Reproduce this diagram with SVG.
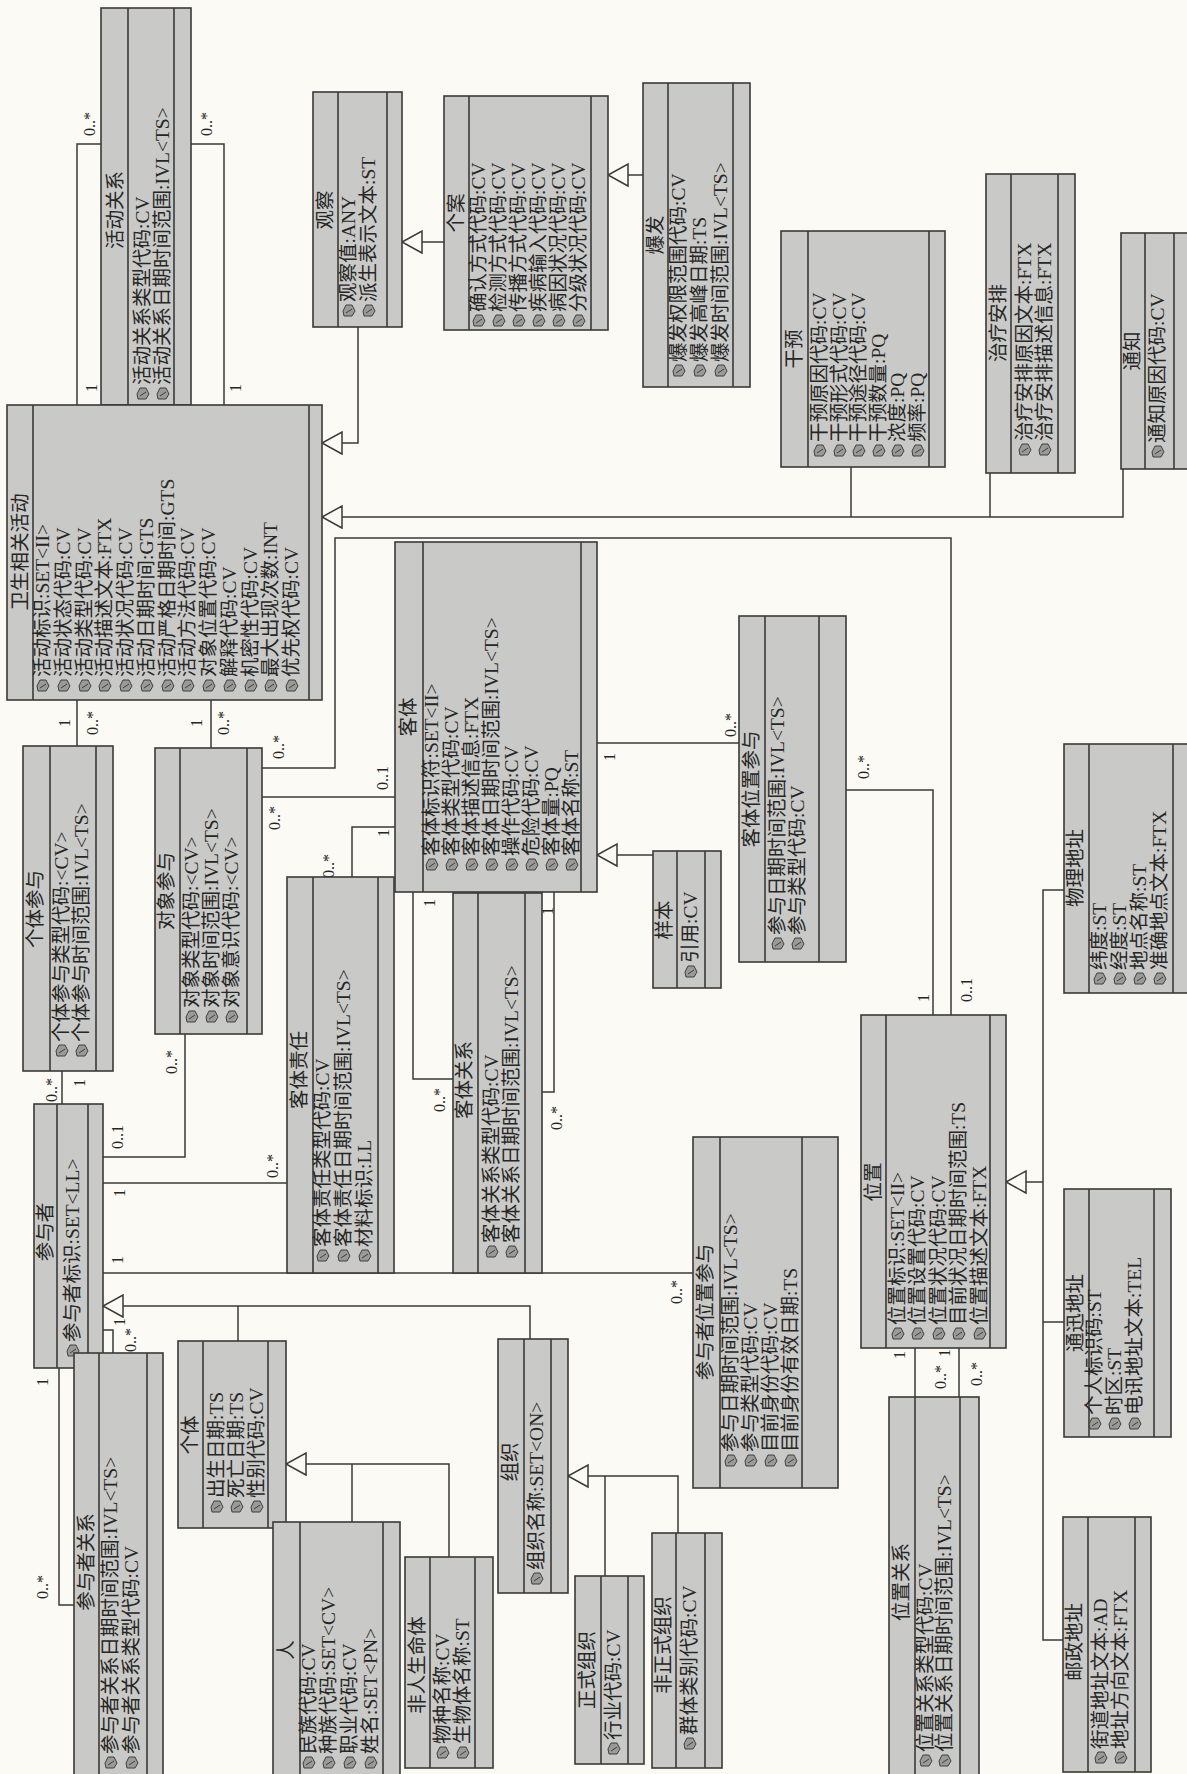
<svg xmlns="http://www.w3.org/2000/svg" xmlns:xlink="http://www.w3.org/1999/xlink" width="1187" height="1774" viewBox="0 0 1187 1774">
<style>
.bg{fill:#fbfaf4}
.box{fill:#c9c9c7;stroke:#3a3a38;stroke-width:1.6}
.dv{stroke:#3a3a38;stroke-width:1.6}
.cn{fill:none;stroke:#3a3a38;stroke-width:1.5}
.g{fill:none;stroke:#3a3a38;stroke-width:1.5;marker-end:url(#gen)}
text{font-family:"Liberation Serif","Noto Sans CJK SC",serif;fill:#262625}
.tt{font-size:19.5px;text-anchor:middle}
.ta{font-size:19.5px}
.m{font-size:16px;text-anchor:middle}
</style>
<defs>
<marker id="gen" markerWidth="22" markerHeight="24" refX="20" refY="11" orient="auto" markerUnits="userSpaceOnUse" overflow="visible">
<path d="M0,0 L20,11 L0,22 Z" fill="#fbfaf4" stroke="#3a3a38" stroke-width="1.5"/>
</marker>
<g id="ic"><path d="M-5,-1 L3,-1 L6,-6 L3,-12 L-3,-12 L-6,-6 Z" fill="#9a9a98" stroke="#333" stroke-width="0.9"/><path d="M-3,-4 L3,-8" stroke="#333" stroke-width="0.9"/></g>
</defs>
<rect class="bg" x="0" y="0" width="1187" height="1774"/>

<g id="connectors">
<polyline class="g" points="358,327 358,443 322,443"/>
<polyline class="g" points="444,242 402,242"/>
<polyline class="g" points="643,175 608,175"/>
<polyline class="g" points="1123,469 1123,517 322,517"/>
<polyline class="cn" points="851,467 851,517"/>
<polyline class="cn" points="990,473 990,517"/>
<polyline class="g" points="653,855 597,855"/>
<polyline class="g" points="530,1339 530,1306 103,1306"/>
<polyline class="cn" points="238,1341 238,1306"/>
<polyline class="g" points="449,1557 449,1464 286,1464"/>
<polyline class="cn" points="352,1522 352,1464"/>
<polyline class="g" points="678,1533 678,1476 568,1476"/>
<polyline class="cn" points="605,1576 605,1476"/>
<polyline class="g" points="1043,1182 1006,1182"/>
<polyline class="cn" points="1064,890 1043,890 1043,1640 1063,1640"/>
<polyline class="cn" points="1043,1322 1064,1322"/>

<polyline class="cn" points="101,144 77,144 77,405"/>
<polyline class="cn" points="191,144 224,144 224,405"/>
<polyline class="cn" points="77,700 77,746"/>
<polyline class="cn" points="211,700 211,748"/>
<polyline class="cn" points="262,768 335,768 335,538 951,538 951,1015"/>
<polyline class="cn" points="262,797 395,797"/>
<polyline class="cn" points="395,827 352,827 352,877"/>
<polyline class="cn" points="597,743 739,743"/>
<polyline class="cn" points="846,790 933,790 933,1015"/>
<polyline class="cn" points="413,892 413,1079 453,1079"/>
<polyline class="cn" points="542,1092 554,1092 554,892"/>
<polyline class="cn" points="62,1104 62,1071"/>
<polyline class="cn" points="103,1157 185,1157 185,1034"/>
<polyline class="cn" points="103,1183 287,1183"/>
<polyline class="cn" points="103,1273 693,1273"/>
<polyline class="cn" points="59,1368 59,1605 74,1605"/>
<polyline class="cn" points="103,1330 113,1330 113,1353"/>
<polyline class="cn" points="915,1348 915,1397"/>
<polyline class="cn" points="959,1348 959,1397"/>

<text class="m" transform="translate(95,124) rotate(-90)">0..*</text>
<text class="m" transform="translate(97,388) rotate(-90)">1</text>
<text class="m" transform="translate(212,124) rotate(-90)">0..*</text>
<text class="m" transform="translate(241,388) rotate(-90)">1</text>
<text class="m" transform="translate(70,723) rotate(-90)">1</text>
<text class="m" transform="translate(98,723) rotate(-90)">0..*</text>
<text class="m" transform="translate(202,723) rotate(-90)">1</text>
<text class="m" transform="translate(229,723) rotate(-90)">0..*</text>
<text class="m" transform="translate(284,747) rotate(-90)">0..*</text>
<text class="m" transform="translate(972,990) rotate(-90)">0..1</text>
<text class="m" transform="translate(280,818) rotate(-90)">0..*</text>
<text class="m" transform="translate(388,778) rotate(-90)">0..1</text>
<text class="m" transform="translate(389,833) rotate(-90)">1</text>
<text class="m" transform="translate(334,866) rotate(-90)">0..*</text>
<text class="m" transform="translate(615,757) rotate(-90)">1</text>
<text class="m" transform="translate(736,725) rotate(-90)">0..*</text>
<text class="m" transform="translate(869,767) rotate(-90)">0..*</text>
<text class="m" transform="translate(929,998) rotate(-90)">1</text>
<text class="m" transform="translate(435,903) rotate(-90)">1</text>
<text class="m" transform="translate(445,1100) rotate(-90)">0..*</text>
<text class="m" transform="translate(553,911) rotate(-90)">1</text>
<text class="m" transform="translate(562,1118) rotate(-90)">0..*</text>
<text class="m" transform="translate(57,1090) rotate(-90)">0..*</text>
<text class="m" transform="translate(85,1083) rotate(-90)">1</text>
<text class="m" transform="translate(123,1137) rotate(-90)">0..1</text>
<text class="m" transform="translate(177,1062) rotate(-90)">0..*</text>
<text class="m" transform="translate(125,1193) rotate(-90)">1</text>
<text class="m" transform="translate(278,1166) rotate(-90)">0..*</text>
<text class="m" transform="translate(123,1260) rotate(-90)">1</text>
<text class="m" transform="translate(682,1292) rotate(-90)">0..*</text>
<text class="m" transform="translate(48,1382) rotate(-90)">1</text>
<text class="m" transform="translate(48,1587) rotate(-90)">0..*</text>
<text class="m" transform="translate(125,1322) rotate(-90)">1</text>
<text class="m" transform="translate(136,1340) rotate(-90)">0..*</text>
<text class="m" transform="translate(905,1355) rotate(-90)">1</text>
<text class="m" transform="translate(946,1377) rotate(-90)">0..*</text>
<text class="m" transform="translate(950,1353) rotate(-90)">1</text>
<text class="m" transform="translate(982,1374) rotate(-90)">0..*</text>
</g>

<g id="n-huodongguanxi">
<rect class="box" x="101" y="8" width="90" height="397"/>
<line class="dv" x1="128" y1="8" x2="128" y2="405"/><line class="dv" x1="174" y1="8" x2="174" y2="405"/>
<text class="tt" transform="translate(122,210) rotate(-90)">活动关系</text>
<use href="#ic" x="143" y="400"/><text class="ta" transform="translate(149,385) rotate(-90)">活动关系类型代码:CV</text>
<use href="#ic" x="163" y="400"/><text class="ta" transform="translate(169,385) rotate(-90)">活动关系日期时间范围:IVL&lt;TS&gt;</text>
</g>

<g id="n-guancha">
<rect class="box" x="313" y="92" width="89" height="235"/>
<line class="dv" x1="338" y1="92" x2="338" y2="327"/><line class="dv" x1="387" y1="92" x2="387" y2="327"/>
<text class="tt" transform="translate(332,210) rotate(-90)">观察</text>
<use href="#ic" x="349" y="317"/><text class="ta" transform="translate(355,302) rotate(-90)">观察值:ANY</text>
<use href="#ic" x="369" y="317"/><text class="ta" transform="translate(375,302) rotate(-90)">派生表示文本:ST</text>
</g>

<g id="n-gean">
<rect class="box" x="444" y="96" width="164" height="234"/>
<line class="dv" x1="469" y1="96" x2="469" y2="330"/><line class="dv" x1="591" y1="96" x2="591" y2="330"/>
<text class="tt" transform="translate(463,213) rotate(-90)">个案</text>
<use href="#ic" x="479" y="327"/><text class="ta" transform="translate(485,312) rotate(-90)">确认方式代码:CV</text>
<use href="#ic" x="499" y="327"/><text class="ta" transform="translate(505,312) rotate(-90)">检测方式代码:CV</text>
<use href="#ic" x="519" y="327"/><text class="ta" transform="translate(525,312) rotate(-90)">传播方式代码:CV</text>
<use href="#ic" x="539" y="327"/><text class="ta" transform="translate(545,312) rotate(-90)">疾病输入代码:CV</text>
<use href="#ic" x="559" y="327"/><text class="ta" transform="translate(565,312) rotate(-90)">病因状况代码:CV</text>
<use href="#ic" x="579" y="327"/><text class="ta" transform="translate(585,312) rotate(-90)">分级状况代码:CV</text>
</g>

<g id="n-baofa">
<rect class="box" x="643" y="83" width="107" height="304"/>
<line class="dv" x1="668" y1="83" x2="668" y2="387"/><line class="dv" x1="733" y1="83" x2="733" y2="387"/>
<text class="tt" transform="translate(662,235) rotate(-90)">爆发</text>
<use href="#ic" x="679" y="377"/><text class="ta" transform="translate(685,362) rotate(-90)">爆发权限范围代码:CV</text>
<use href="#ic" x="700" y="377"/><text class="ta" transform="translate(706,362) rotate(-90)">爆发高峰日期:TS</text>
<use href="#ic" x="721" y="377"/><text class="ta" transform="translate(727,362) rotate(-90)">爆发时间范围:IVL&lt;TS&gt;</text>
</g>

<g id="n-ganyu">
<rect class="box" x="781" y="231" width="164" height="236"/>
<line class="dv" x1="808" y1="231" x2="808" y2="467"/><line class="dv" x1="929" y1="231" x2="929" y2="467"/>
<text class="tt" transform="translate(801,349) rotate(-90)">干预</text>
<use href="#ic" x="820" y="457"/><text class="ta" transform="translate(826,442) rotate(-90)">干预原因代码:CV</text>
<use href="#ic" x="840" y="457"/><text class="ta" transform="translate(846,442) rotate(-90)">干预形式代码:CV</text>
<use href="#ic" x="859" y="457"/><text class="ta" transform="translate(865,442) rotate(-90)">干预途径代码:CV</text>
<use href="#ic" x="879" y="457"/><text class="ta" transform="translate(885,442) rotate(-90)">干预数量:PQ</text>
<use href="#ic" x="898" y="457"/><text class="ta" transform="translate(904,442) rotate(-90)">浓度:PQ</text>
<use href="#ic" x="918" y="457"/><text class="ta" transform="translate(924,442) rotate(-90)">频率:PQ</text>
</g>

<g id="n-zhiliaoanpai">
<rect class="box" x="986" y="174" width="89" height="299"/>
<line class="dv" x1="1011" y1="174" x2="1011" y2="473"/><line class="dv" x1="1058" y1="174" x2="1058" y2="473"/>
<text class="tt" transform="translate(1005,323) rotate(-90)">治疗安排</text>
<use href="#ic" x="1025" y="456"/><text class="ta" transform="translate(1031,441) rotate(-90)">治疗安排原因文本:FTX</text>
<use href="#ic" x="1045" y="456"/><text class="ta" transform="translate(1051,441) rotate(-90)">治疗安排描述信息:FTX</text>
</g>

<g id="n-tongzhi">
<rect class="box" x="1121" y="233" width="75" height="236"/>
<line class="dv" x1="1145" y1="233" x2="1145" y2="469"/><line class="dv" x1="1174" y1="233" x2="1174" y2="469"/>
<text class="tt" transform="translate(1139,351) rotate(-90)">通知</text>
<use href="#ic" x="1158" y="458"/><text class="ta" transform="translate(1164,443) rotate(-90)">通知原因代码:CV</text>
</g>

<g id="n-weishengxiangguanhuodong">
<rect class="box" x="7" y="405" width="315" height="295"/>
<line class="dv" x1="33" y1="405" x2="33" y2="700"/><line class="dv" x1="309" y1="405" x2="309" y2="700"/>
<text class="tt" transform="translate(27,552) rotate(-90)">卫生相关活动</text>
<use href="#ic" x="43" y="692"/><text class="ta" transform="translate(49,677) rotate(-90)">活动标识:SET&lt;II&gt;</text>
<use href="#ic" x="64" y="692"/><text class="ta" transform="translate(70,677) rotate(-90)">活动状态代码:CV</text>
<use href="#ic" x="85" y="692"/><text class="ta" transform="translate(91,677) rotate(-90)">活动类型代码:CV</text>
<use href="#ic" x="105" y="692"/><text class="ta" transform="translate(111,677) rotate(-90)">活动描述文本:FTX</text>
<use href="#ic" x="126" y="692"/><text class="ta" transform="translate(132,677) rotate(-90)">活动状况代码:CV</text>
<use href="#ic" x="147" y="692"/><text class="ta" transform="translate(153,677) rotate(-90)">活动日期时间:GTS</text>
<use href="#ic" x="168" y="692"/><text class="ta" transform="translate(174,677) rotate(-90)">活动严格日期时间:GTS</text>
<use href="#ic" x="188" y="692"/><text class="ta" transform="translate(194,677) rotate(-90)">活动方法代码:CV</text>
<use href="#ic" x="209" y="692"/><text class="ta" transform="translate(215,677) rotate(-90)">对象位置代码:CV</text>
<use href="#ic" x="230" y="692"/><text class="ta" transform="translate(236,677) rotate(-90)">解释代码:CV</text>
<use href="#ic" x="251" y="692"/><text class="ta" transform="translate(257,677) rotate(-90)">机密性代码:CV</text>
<use href="#ic" x="271" y="692"/><text class="ta" transform="translate(277,677) rotate(-90)">最大出现次数:INT</text>
<use href="#ic" x="292" y="692"/><text class="ta" transform="translate(298,677) rotate(-90)">优先权代码:CV</text>
</g>

<g id="n-keti">
<rect class="box" x="395" y="542" width="202" height="350"/>
<line class="dv" x1="423" y1="542" x2="423" y2="892"/><line class="dv" x1="581" y1="542" x2="581" y2="892"/>
<text class="tt" transform="translate(415,717) rotate(-90)">客体</text>
<use href="#ic" x="432" y="871"/><text class="ta" transform="translate(438,856) rotate(-90)">客体标识符:SET&lt;II&gt;</text>
<use href="#ic" x="452" y="871"/><text class="ta" transform="translate(458,856) rotate(-90)">客体类型代码:CV</text>
<use href="#ic" x="472" y="871"/><text class="ta" transform="translate(478,856) rotate(-90)">客体描述信息:FTX</text>
<use href="#ic" x="492" y="871"/><text class="ta" transform="translate(498,856) rotate(-90)">客体日期时间范围:IVL&lt;TS&gt;</text>
<use href="#ic" x="512" y="871"/><text class="ta" transform="translate(518,856) rotate(-90)">操作代码:CV</text>
<use href="#ic" x="532" y="871"/><text class="ta" transform="translate(538,856) rotate(-90)">危险代码:CV</text>
<use href="#ic" x="552" y="871"/><text class="ta" transform="translate(558,856) rotate(-90)">客体量:PQ</text>
<use href="#ic" x="572" y="871"/><text class="ta" transform="translate(578,856) rotate(-90)">客体名称:ST</text>
</g>

<g id="n-yangben">
<rect class="box" x="653" y="851" width="68" height="137"/>
<line class="dv" x1="677" y1="851" x2="677" y2="988"/><line class="dv" x1="705" y1="851" x2="705" y2="988"/>
<text class="tt" transform="translate(671,920) rotate(-90)">样本</text>
<use href="#ic" x="691" y="978"/><text class="ta" transform="translate(697,963) rotate(-90)">引用:CV</text>
</g>

<g id="n-ketiweizhicanyu">
<rect class="box" x="739" y="616" width="107" height="346"/>
<line class="dv" x1="765" y1="616" x2="765" y2="962"/><line class="dv" x1="819" y1="616" x2="819" y2="962"/>
<text class="tt" transform="translate(758,789) rotate(-90)">客体位置参与</text>
<use href="#ic" x="778" y="950"/><text class="ta" transform="translate(784,935) rotate(-90)">参与日期时间范围:IVL&lt;TS&gt;</text>
<use href="#ic" x="798" y="950"/><text class="ta" transform="translate(804,935) rotate(-90)">参与类型代码:CV</text>
</g>

<g id="n-getican">
<rect class="box" x="23" y="746" width="90" height="325"/>
<line class="dv" x1="50" y1="746" x2="50" y2="1071"/><line class="dv" x1="96" y1="746" x2="96" y2="1071"/>
<text class="tt" transform="translate(42,909) rotate(-90)">个体参与</text>
<use href="#ic" x="62" y="1057"/><text class="ta" transform="translate(68,1042) rotate(-90)">个体参与类型代码:&lt;CV&gt;</text>
<use href="#ic" x="82" y="1057"/><text class="ta" transform="translate(88,1042) rotate(-90)">个体参与时间范围:IVL&lt;TS&gt;</text>
</g>

<g id="n-duixiangcanyu">
<rect class="box" x="155" y="748" width="107" height="286"/>
<line class="dv" x1="180" y1="748" x2="180" y2="1034"/><line class="dv" x1="247" y1="748" x2="247" y2="1034"/>
<text class="tt" transform="translate(173,891) rotate(-90)">对象参与</text>
<use href="#ic" x="192" y="1023"/><text class="ta" transform="translate(198,1008) rotate(-90)">对象类型代码:&lt;CV&gt;</text>
<use href="#ic" x="212" y="1023"/><text class="ta" transform="translate(218,1008) rotate(-90)">对象时间范围:IVL&lt;TS&gt;</text>
<use href="#ic" x="232" y="1023"/><text class="ta" transform="translate(238,1008) rotate(-90)">对象意识代码:&lt;CV&gt;</text>
</g>

<g id="n-ketizeren">
<rect class="box" x="287" y="877" width="107" height="396"/>
<line class="dv" x1="313" y1="877" x2="313" y2="1273"/><line class="dv" x1="378" y1="877" x2="378" y2="1273"/>
<text class="tt" transform="translate(306,1070) rotate(-90)">客体责任</text>
<use href="#ic" x="323" y="1262"/><text class="ta" transform="translate(329,1247) rotate(-90)">客体责任类型代码:CV</text>
<use href="#ic" x="344" y="1262"/><text class="ta" transform="translate(350,1247) rotate(-90)">客体责任日期时间范围:IVL&lt;TS&gt;</text>
<use href="#ic" x="365" y="1262"/><text class="ta" transform="translate(371,1247) rotate(-90)">材料标识:LL</text>
</g>

<g id="n-ketiguanxi">
<rect class="box" x="453" y="893" width="89" height="380"/>
<line class="dv" x1="478" y1="893" x2="478" y2="1273"/><line class="dv" x1="525" y1="893" x2="525" y2="1273"/>
<text class="tt" transform="translate(471,1080) rotate(-90)">客体关系</text>
<use href="#ic" x="492" y="1258"/><text class="ta" transform="translate(498,1243) rotate(-90)">客体关系类型代码:CV</text>
<use href="#ic" x="512" y="1258"/><text class="ta" transform="translate(518,1243) rotate(-90)">客体关系日期时间范围:IVL&lt;TS&gt;</text>
</g>

<g id="n-canyuzhe">
<rect class="box" x="34" y="1104" width="69" height="264"/>
<line class="dv" x1="57" y1="1104" x2="57" y2="1368"/><line class="dv" x1="88" y1="1104" x2="88" y2="1368"/>
<text class="tt" transform="translate(52,1232) rotate(-90)">参与者</text>
<use href="#ic" x="73" y="1357"/><text class="ta" transform="translate(79,1342) rotate(-90)">参与者标识:SET&lt;LL&gt;</text>
</g>

<g id="n-canyuzheguanxi">
<rect class="box" x="74" y="1353" width="89" height="425"/>
<line class="dv" x1="99" y1="1353" x2="99" y2="1778"/><line class="dv" x1="147" y1="1353" x2="147" y2="1778"/>
<text class="tt" transform="translate(93,1562) rotate(-90)">参与者关系</text>
<use href="#ic" x="111" y="1769"/><text class="ta" transform="translate(117,1754) rotate(-90)">参与者关系日期时间范围:IVL&lt;TS&gt;</text>
<use href="#ic" x="132" y="1769"/><text class="ta" transform="translate(138,1754) rotate(-90)">参与者关系类型代码:CV</text>
</g>

<g id="n-geti">
<rect class="box" x="178" y="1341" width="108" height="187"/>
<line class="dv" x1="203" y1="1341" x2="203" y2="1528"/><line class="dv" x1="268" y1="1341" x2="268" y2="1528"/>
<text class="tt" transform="translate(197,1435) rotate(-90)">个体</text>
<use href="#ic" x="217" y="1513"/><text class="ta" transform="translate(223,1498) rotate(-90)">出生日期:TS</text>
<use href="#ic" x="237" y="1513"/><text class="ta" transform="translate(243,1498) rotate(-90)">死亡日期:TS</text>
<use href="#ic" x="257" y="1513"/><text class="ta" transform="translate(263,1498) rotate(-90)">性别代码:CV</text>
</g>

<g id="n-ren">
<rect class="box" x="273" y="1522" width="127" height="256"/>
<line class="dv" x1="300" y1="1522" x2="300" y2="1778"/><line class="dv" x1="383" y1="1522" x2="383" y2="1778"/>
<text class="tt" transform="translate(293,1650) rotate(-90)">人</text>
<use href="#ic" x="309" y="1769"/><text class="ta" transform="translate(315,1754) rotate(-90)">民族代码:CV</text>
<use href="#ic" x="329" y="1769"/><text class="ta" transform="translate(335,1754) rotate(-90)">种族代码:SET&lt;CV&gt;</text>
<use href="#ic" x="350" y="1769"/><text class="ta" transform="translate(356,1754) rotate(-90)">职业代码:CV</text>
<use href="#ic" x="371" y="1769"/><text class="ta" transform="translate(377,1754) rotate(-90)">姓名:SET&lt;PN&gt;</text>
</g>

<g id="n-feirenshengmingti">
<rect class="box" x="405" y="1557" width="88" height="211"/>
<line class="dv" x1="430" y1="1557" x2="430" y2="1768"/><line class="dv" x1="475" y1="1557" x2="475" y2="1768"/>
<text class="tt" transform="translate(424,1665) rotate(-90)">非人生命体</text>
<use href="#ic" x="443" y="1759"/><text class="ta" transform="translate(449,1744) rotate(-90)">物种名称:CV</text>
<use href="#ic" x="463" y="1759"/><text class="ta" transform="translate(469,1744) rotate(-90)">生物体名称:ST</text>
</g>

<g id="n-zuzhi">
<rect class="box" x="498" y="1339" width="70" height="254"/>
<line class="dv" x1="524" y1="1339" x2="524" y2="1593"/><line class="dv" x1="551" y1="1339" x2="551" y2="1593"/>
<text class="tt" transform="translate(517,1462) rotate(-90)">组织</text>
<use href="#ic" x="537" y="1585"/><text class="ta" transform="translate(543,1570) rotate(-90)">组织名称:SET&lt;ON&gt;</text>
</g>

<g id="n-zhengshizuzhi">
<rect class="box" x="575" y="1576" width="69" height="188"/>
<line class="dv" x1="601" y1="1576" x2="601" y2="1764"/><line class="dv" x1="628" y1="1576" x2="628" y2="1764"/>
<text class="tt" transform="translate(594,1670) rotate(-90)">正式组织</text>
<use href="#ic" x="614" y="1755"/><text class="ta" transform="translate(620,1740) rotate(-90)">行业代码:CV</text>
</g>

<g id="n-feizhengshizuzhi">
<rect class="box" x="652" y="1533" width="70" height="235"/>
<line class="dv" x1="676" y1="1533" x2="676" y2="1768"/><line class="dv" x1="705" y1="1533" x2="705" y2="1768"/>
<text class="tt" transform="translate(670,1645) rotate(-90)">非正式组织</text>
<use href="#ic" x="690" y="1750"/><text class="ta" transform="translate(696,1735) rotate(-90)">群体类别代码:CV</text>
</g>

<g id="n-canyuzheweizhicanyu">
<rect class="box" x="693" y="1137" width="145" height="351"/>
<line class="dv" x1="720" y1="1137" x2="720" y2="1488"/><line class="dv" x1="802" y1="1137" x2="802" y2="1488"/>
<text class="tt" transform="translate(712,1312) rotate(-90)">参与者位置参与</text>
<use href="#ic" x="731" y="1467"/><text class="ta" transform="translate(737,1452) rotate(-90)">参与日期时间范围:IVL&lt;TS&gt;</text>
<use href="#ic" x="751" y="1467"/><text class="ta" transform="translate(757,1452) rotate(-90)">参与类型代码:CV</text>
<use href="#ic" x="771" y="1467"/><text class="ta" transform="translate(777,1452) rotate(-90)">目前身份代码:CV</text>
<use href="#ic" x="791" y="1467"/><text class="ta" transform="translate(797,1452) rotate(-90)">目前身份有效日期:TS</text>
</g>

<g id="n-weizhi">
<rect class="box" x="861" y="1015" width="145" height="333"/>
<line class="dv" x1="886" y1="1015" x2="886" y2="1348"/><line class="dv" x1="990" y1="1015" x2="990" y2="1348"/>
<text class="tt" transform="translate(880,1182) rotate(-90)">位置</text>
<use href="#ic" x="898" y="1340"/><text class="ta" transform="translate(904,1325) rotate(-90)">位置标识:SET&lt;II&gt;</text>
<use href="#ic" x="918" y="1340"/><text class="ta" transform="translate(924,1325) rotate(-90)">位置设置代码:CV</text>
<use href="#ic" x="939" y="1340"/><text class="ta" transform="translate(945,1325) rotate(-90)">位置状况代码:CV</text>
<use href="#ic" x="959" y="1340"/><text class="ta" transform="translate(965,1325) rotate(-90)">目前状况日期时间范围:TS</text>
<use href="#ic" x="980" y="1340"/><text class="ta" transform="translate(986,1325) rotate(-90)">位置描述文本:FTX</text>
</g>

<g id="n-weizhiguanxi">
<rect class="box" x="889" y="1397" width="90" height="381"/>
<line class="dv" x1="915" y1="1397" x2="915" y2="1778"/><line class="dv" x1="960" y1="1397" x2="960" y2="1778"/>
<text class="tt" transform="translate(908,1582) rotate(-90)">位置关系</text>
<use href="#ic" x="926" y="1767"/><text class="ta" transform="translate(932,1752) rotate(-90)">位置关系类型代码:CV</text>
<use href="#ic" x="945" y="1767"/><text class="ta" transform="translate(951,1752) rotate(-90)">位置关系日期时间范围:IVL&lt;TS&gt;</text>
</g>

<g id="n-youzhengdizhi">
<rect class="box" x="1063" y="1517" width="88" height="255"/>
<line class="dv" x1="1088" y1="1517" x2="1088" y2="1772"/><line class="dv" x1="1135" y1="1517" x2="1135" y2="1772"/>
<text class="tt" transform="translate(1081,1642) rotate(-90)">邮政地址</text>
<use href="#ic" x="1101" y="1764"/><text class="ta" transform="translate(1107,1749) rotate(-90)">街道地址文本:AD</text>
<use href="#ic" x="1121" y="1764"/><text class="ta" transform="translate(1127,1749) rotate(-90)">地址方向文本:FTX</text>
</g>

<g id="n-tongxundizhi">
<rect class="box" x="1064" y="1189" width="107" height="248"/>
<line class="dv" x1="1089" y1="1189" x2="1089" y2="1437"/><line class="dv" x1="1154" y1="1189" x2="1154" y2="1437"/>
<text class="tt" transform="translate(1082,1313) rotate(-90)">通迅地址</text>
<use href="#ic" x="1095" y="1430"/><text class="ta" transform="translate(1101,1415) rotate(-90)">个人标识码:ST</text>
<use href="#ic" x="1115" y="1430"/><text class="ta" transform="translate(1121,1415) rotate(-90)">时区:ST</text>
<use href="#ic" x="1135" y="1430"/><text class="ta" transform="translate(1141,1415) rotate(-90)">电讯地址文本:TEL</text>
</g>

<g id="n-wulidizhi">
<rect class="box" x="1064" y="744" width="128" height="249"/>
<line class="dv" x1="1089" y1="744" x2="1089" y2="993"/><line class="dv" x1="1173" y1="744" x2="1173" y2="993"/>
<text class="tt" transform="translate(1082,868) rotate(-90)">物理地址</text>
<use href="#ic" x="1100" y="985"/><text class="ta" transform="translate(1106,970) rotate(-90)">纬度:ST</text>
<use href="#ic" x="1120" y="985"/><text class="ta" transform="translate(1126,970) rotate(-90)">经度:ST</text>
<use href="#ic" x="1140" y="985"/><text class="ta" transform="translate(1146,970) rotate(-90)">地点名称:ST</text>
<use href="#ic" x="1160" y="985"/><text class="ta" transform="translate(1166,970) rotate(-90)">准确地点文本:FTX</text>
</g>
</svg>
